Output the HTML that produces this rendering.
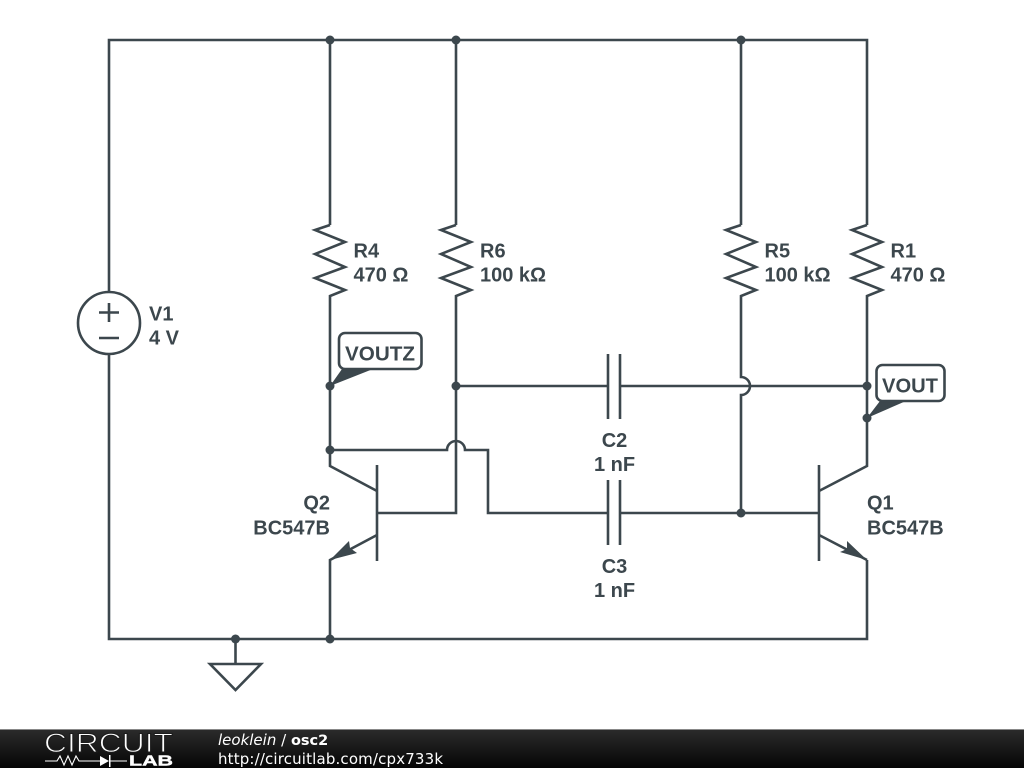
<!DOCTYPE html>
<html><head><meta charset="utf-8"><style>
html,body{margin:0;padding:0;background:#fff;width:1024px;height:768px;overflow:hidden}
svg{display:block}
.w{fill:none;stroke:#3c474d;stroke-width:2.6;stroke-linejoin:miter}
.d{fill:#3c474d}
.t{font-family:"Liberation Sans",sans-serif;font-weight:700;font-size:20px;fill:#3c474d}
.f{font-family:"DejaVu Sans",sans-serif;font-size:15px;fill:#fff}
</style></head><body>
<svg width="1024" height="768" viewBox="0 0 1024 768" xmlns="http://www.w3.org/2000/svg">
<defs><linearGradient id="g" x1="0" y1="0" x2="0" y2="1"><stop offset="0" stop-color="#2c2c2c"/><stop offset="1" stop-color="#050505"/></linearGradient></defs>
<path class="w" d="M109 292V40H867V225M109 355V639H867V560M330 40V225M456 40V225M741 40V225"/>
<path class="w" d="M330 225L315 230L345 242L315 254L345 267L315 278L345 290L330 296V466L377 491M330 639V560L377 535"/>
<path class="w" d="M456 225L441 230L471 242L441 254L471 267L441 278L471 290L456 296V513H377"/>
<path class="w" d="M741 225L726 230L756 242L726 254L756 267L726 278L756 290L741 296V377A9 9 0 0 1 741 395V513"/>
<path class="w" d="M867 225L852 230L882 242L852 254L882 267L852 278L882 290L867 296V466L819 491M819 535L867 560"/>
<path class="w" d="M377 465V561M819 465V561M741 513H819"/>
<path class="w" d="M330 450H447A9 9 0 0 1 465 450H488V513H608M620 513H741"/>
<path class="w" d="M456 386H608M620 386H867"/>
<path class="w" d="M608 354V419M620 354V419M608 480V545M620 480V545"/>
<circle class="w" cx="109" cy="323" r="31"/>
<path class="w" d="M99 312.500H119M109 303V322M99 338H119"/>
<path class="w" d="M235.500 639V664M210 664H261L235.500 690Z"/>
<polygon class="d" points="330,560 349,541 350,548 357,553"/>
<polygon class="d" points="867,560 847,541 847,549 840,552"/>
<polygon class="d" points="330,386 342,369 373,369"/>
<polygon class="d" points="867,418 880,401 906,401"/>
<g class="d">
<circle cx="330" cy="40" r="4.500"/><circle cx="456" cy="40" r="4.500"/><circle cx="741" cy="40" r="4.500"/>
<circle cx="330" cy="386" r="4.500"/><circle cx="456" cy="386" r="4.500"/><circle cx="867" cy="386" r="4.500"/>
<circle cx="867" cy="418" r="4.500"/><circle cx="330" cy="450" r="4.500"/><circle cx="741" cy="513" r="4.500"/>
<circle cx="235.500" cy="639" r="4.500"/><circle cx="330" cy="639" r="4.500"/>
</g>
<rect class="w" x="339" y="333" width="82.500" height="36" rx="6" style="fill:#fff"/>
<rect class="w" x="876.500" y="365" width="68" height="36" rx="6" style="fill:#fff"/>
<text class="t" x="345" y="360.500" textLength="70" lengthAdjust="spacingAndGlyphs">VOUTZ</text>
<text class="t" x="882" y="392.500" textLength="56" lengthAdjust="spacingAndGlyphs">VOUT</text>
<text class="t" x="149" y="320.500">V1</text><text class="t" x="149" y="344.500">4 V</text>
<text class="t" x="353.500" y="257.500">R4</text><text class="t" x="353.500" y="281.500">470 Ω</text>
<text class="t" x="480" y="257.500">R6</text><text class="t" x="480" y="281.500">100 kΩ</text>
<text class="t" x="764.500" y="257.500">R5</text><text class="t" x="764.500" y="281.500">100 kΩ</text>
<text class="t" x="890.500" y="257.500">R1</text><text class="t" x="890.500" y="281.500">470 Ω</text>
<text class="t" x="330" y="509.500" text-anchor="end">Q2</text><text class="t" x="330" y="534.500" text-anchor="end">BC547B</text>
<text class="t" x="867" y="509.500">Q1</text><text class="t" x="867" y="534.500">BC547B</text>
<text class="t" x="614.500" y="447" text-anchor="middle">C2</text><text class="t" x="614.500" y="471" text-anchor="middle">1 nF</text>
<text class="t" x="614.500" y="573" text-anchor="middle">C3</text><text class="t" x="614.500" y="597" text-anchor="middle">1 nF</text>
<rect x="0" y="729" width="1024" height="39" fill="url(#g)"/>
<rect x="0" y="729" width="1024" height="1" fill="#888"/>
<text x="44" y="752" font-family="Liberation Sans,sans-serif" font-size="26.500" fill="#fff" stroke="#1c1c1c" stroke-width="1" textLength="129" lengthAdjust="spacingAndGlyphs">CIRCUIT</text>
<path d="M45 761H57L60 756L64 765L68 756L72 765L76 756L79 761H100M110 761H127" fill="none" stroke="#fff" stroke-width="1.100"/>
<polygon points="100,756 100,766 109,761" fill="#fff"/><rect x="109" y="755" width="1.500" height="12" fill="#fff"/>
<text x="129" y="765.500" font-family="Liberation Sans,sans-serif" font-weight="700" font-size="15" fill="#fff" stroke="#fff" stroke-width="0.4" textLength="44" lengthAdjust="spacingAndGlyphs">LAB</text>
<text class="f" x="218" y="745"><tspan font-style="italic">leoklein</tspan> / <tspan font-weight="700" font-size="14.500">osc2</tspan></text>
<text class="f" x="218" y="764" textLength="225">http://circuitlab.com/cpx733k</text>
</svg>
</body></html>
